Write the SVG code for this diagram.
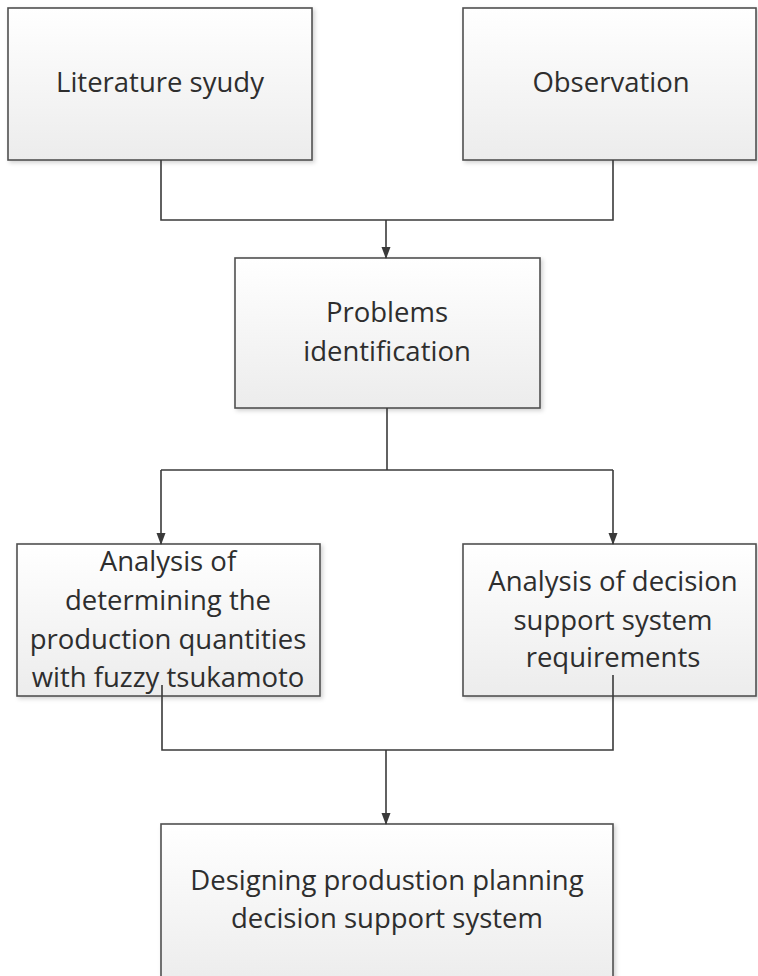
<svg xmlns="http://www.w3.org/2000/svg" width="758" height="976" viewBox="0 0 758 976">
<defs>
<linearGradient id="g" x1="0" y1="0" x2="0" y2="1">
<stop offset="0" stop-color="#ffffff"/>
<stop offset="1" stop-color="#ececec"/>
</linearGradient>
<filter id="sh" x="-5%" y="-5%" width="115%" height="115%">
<feDropShadow dx="2" dy="2" stdDeviation="2" flood-color="#000" flood-opacity="0.18"/>
</filter>
<marker id="ah" markerWidth="12" markerHeight="12" refX="11" refY="6" orient="auto" markerUnits="userSpaceOnUse">
<path d="M0,1.5 L12,6 L0,10.5 Z" fill="#3a3a3a"/>
</marker>
<style>
.box{fill:url(#g);stroke:#505050;stroke-width:1.6;filter:url(#sh)}
.t{font-family:"Open Sans","Liberation Sans",sans-serif;font-size:27.5px;fill:#2e2e2e;text-anchor:middle}
.c{fill:none;stroke:#3a3a3a;stroke-width:1.6}
</style>
</defs>
<g id="n1"><rect class="box" x="8" y="8" width="304" height="152"/><text class="t" x="160" y="92">Literature syudy</text></g>
<g id="n2"><rect class="box" x="463" y="8" width="293" height="152"/><text class="t" x="611" y="92">Observation</text></g>
<g id="n3"><rect class="box" x="235" y="258" width="305" height="150"/><text class="t" x="387" y="322">Problems</text><text class="t" x="387" y="361">identification</text></g>
<g id="n4"><rect class="box" x="17" y="544" width="303" height="152"/><text class="t" x="168" y="571">Analysis of</text><text class="t" x="168" y="610">determining the</text><text class="t" x="168" y="649">production quantities</text><text class="t" x="168" y="687">with fuzzy tsukamoto</text></g>
<g id="n5"><rect class="box" x="463" y="544" width="293" height="152"/><text class="t" x="613" y="591">Analysis of decision</text><text class="t" x="613" y="630">support system</text><text class="t" x="613" y="667">requirements</text></g>
<g id="n6"><rect class="box" x="161" y="824" width="452" height="160"/><text class="t" x="387" y="890">Designing produstion planning</text><text class="t" x="387" y="928">decision support system</text></g>
<g id="connectors">
<path class="c" d="M161,160 V220 H613 V160"/>
<path class="c" d="M386,220 V258" marker-end="url(#ah)"/>
<path class="c" d="M387,408 V470"/>
<path class="c" d="M161,470 H613"/>
<path class="c" d="M161,470 V544" marker-end="url(#ah)"/>
<path class="c" d="M613,470 V544" marker-end="url(#ah)"/>
<path class="c" d="M162,685 V750 H613 V675"/>
<path class="c" d="M386,750 V824" marker-end="url(#ah)"/>
</g>
</svg>
